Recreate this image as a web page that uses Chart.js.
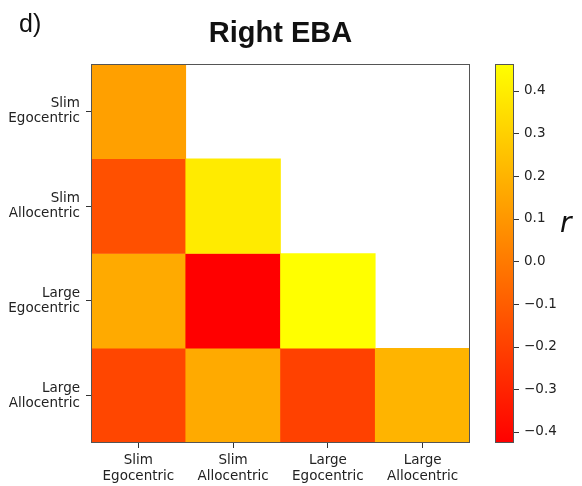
<!DOCTYPE html>
<html>
<head>
<meta charset="utf-8">
<script src="https://cdn.jsdelivr.net/npm/chart.js@4"></script>
<style>
  body { margin: 0; background: #fff; }
  #wrap { width: 582px; height: 486px; }
</style>
</head>
<body>
<div id="wrap"><canvas id="heat" width="582" height="486"></canvas></div>
<script>
// === Data ===
const rowLabels = ['Slim Egocentric', 'Slim Allocentric', 'Large Egocentric', 'Large Allocentric'];
const colLabels = ['Slim Egocentric', 'Slim Allocentric', 'Large Egocentric', 'Large Allocentric'];
// one array per row (top to bottom), one value per column; null = upper triangle left blank
const rowSlimEgo   = [0.132, null, null, null];
const rowSlimAllo  = [-0.147, 0.393, null, null];
const rowLargeEgo  = [0.167, -0.426, 0.463, null];
const rowLargeAllo = [-0.182, 0.167, -0.199, 0.202];
const cbTicks = [-0.4, -0.3, -0.2, -0.1, 0.0, 0.1, 0.2, 0.3, 0.4];

const rows = [rowSlimEgo, rowSlimAllo, rowLargeEgo, rowLargeAllo];
const allValues = rows.flat().filter(v => v !== null);
const vmin = Math.min(...allValues);
const vmax = Math.max(...allValues);

// matplotlib "autumn": red -> yellow
function autumn(v) {
  const t = Math.max(0, Math.min(1, (v - vmin) / (vmax - vmin)));
  return `rgb(255, ${Math.round(255 * t)}, 0)`;
}

function fmtTick(v) {
  return v.toFixed(1).replace('-', '\u2212');
}

// keep the axis boxes at fixed sizes, no extra label overhang
function fixWidth(w) {
  return axis => { axis.width = w; axis.paddingTop = 0; axis.paddingBottom = 0; };
}

const datasets = rows.map((vals, i) => ({
  label: rowLabels[i],
  data: vals.map(v => (v === null ? null : [i, i + 1])),
  backgroundColor: vals.map(v => (v === null ? 'rgba(0,0,0,0)' : autumn(v))),
  borderWidth: 0,
  grouped: false,
  barPercentage: 1,
  categoryPercentage: 1
}));

// colour bar, frame and loose texts
const extrasPlugin = {
  id: 'extras',
  afterDraw(chart) {
    const ctx = chart.ctx;
    const area = chart.chartArea;
    const cb = chart.scales.cb;

    // plot frame
    ctx.save();
    ctx.strokeStyle = '#555';
    ctx.lineWidth = 1;
    ctx.strokeRect(area.left + 0.5, area.top + 0.5, area.right - area.left - 1, area.bottom - area.top - 1);

    // colour bar
    const x0 = area.right + 25;
    const w = 19;
    const grad = ctx.createLinearGradient(0, cb.bottom, 0, cb.top);
    grad.addColorStop(0, autumn(vmin));
    grad.addColorStop(1, autumn(vmax));
    ctx.fillStyle = grad;
    ctx.fillRect(x0, cb.top, w, cb.bottom - cb.top);
    ctx.strokeStyle = '#555';
    ctx.strokeRect(x0 + 0.5, cb.top + 0.5, w - 1, cb.bottom - cb.top - 1);

    ctx.strokeStyle = '#333';
    ctx.beginPath();
    cbTicks.forEach(v => {
      const y = Math.round(cb.getPixelForValue(v)) + 0.5;
      ctx.moveTo(x0 + w, y);
      ctx.lineTo(x0 + w + 5, y);
    });
    ctx.stroke();

    // panel letter and colour bar label
    ctx.fillStyle = '#111';
    ctx.textBaseline = 'alphabetic';
    ctx.textAlign = 'left';
    ctx.font = '25px "Liberation Sans", Arial, sans-serif';
    ctx.fillText('d)', 19, 32);
    ctx.font = 'italic 28px "DejaVu Sans", sans-serif';
    ctx.fillText('r', 560, 232);
    ctx.restore();
  }
};

new Chart(document.getElementById('heat'), {
  type: 'bar',
  data: { labels: colLabels, datasets },
  options: {
    responsive: false,
    animation: false,
    layout: { padding: 0 },
    plugins: {
      legend: { display: false },
      tooltip: { enabled: false },
      title: {
        display: true,
        text: 'Right EBA',
        fullSize: false,
        color: '#111',
        font: { family: 'Liberation Sans', size: 29, weight: 'bold' },
        padding: { top: 17, bottom: 12.2 }
      }
    },
    scales: {
      x: {
        type: 'category',
        grid: { offset: false, drawOnChartArea: false, tickLength: 5, color: '#333' },
        border: { display: false },
        ticks: {
          color: '#222',
          font: { family: 'DejaVu Sans', size: 13.5, lineHeight: 1.15 },
          padding: 5,
          maxRotation: 0,
          autoSkip: false,
          callback: (v, i) => colLabels[i].split(' ')
        },
        afterFit: axis => { axis.height = 43; axis.paddingLeft = 0; axis.paddingRight = 0; }
      },
      y: {
        type: 'linear',
        min: 0,
        max: rowLabels.length,
        reverse: true,
        grid: { drawOnChartArea: false, tickLength: 5, color: '#333' },
        border: { display: false },
        afterBuildTicks: axis => { axis.ticks = rowLabels.map((_, i) => ({ value: i + 0.5 })); },
        ticks: {
          color: '#222',
          font: { family: 'DejaVu Sans', size: 13.5, lineHeight: 1.1 },
          padding: 6,
          autoSkip: false,
          callback: (v, i) => rowLabels[i].split(' ')
        },
        afterFit: fixWidth(91)
      },
      cb: {
        type: 'linear',
        axis: 'y',
        position: 'right',
        min: vmin,
        max: vmax,
        grid: { display: false, drawTicks: false },
        border: { display: false },
        afterBuildTicks: axis => { axis.ticks = cbTicks.map(v => ({ value: v })); },
        ticks: {
          color: '#222',
          font: { family: 'DejaVu Sans', size: 13.5 },
          padding: 54,
          autoSkip: false,
          callback: v => fmtTick(v)
        },
        afterFit: fixWidth(112)
      }
    }
  },
  plugins: [extrasPlugin]
});
</script>
</body>
</html>
